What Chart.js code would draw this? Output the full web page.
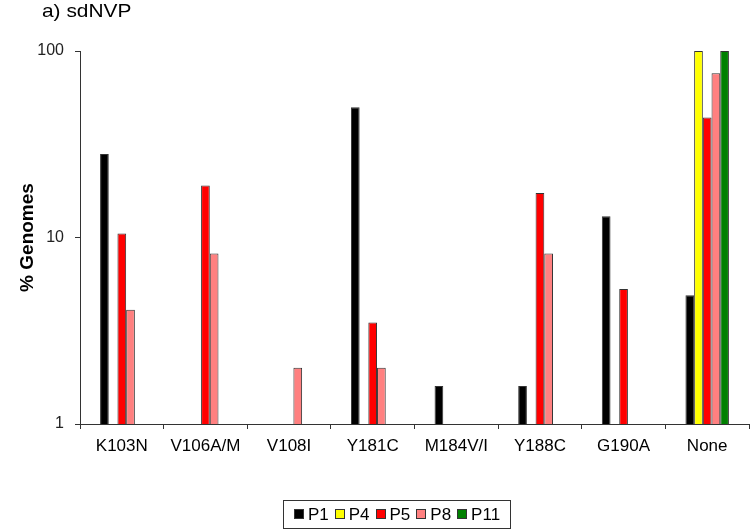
<!DOCTYPE html>
<html>
<head>
<meta charset="utf-8">
<script src="https://cdn.jsdelivr.net/npm/chart.js@4.4.0/dist/chart.umd.min.js"></script>
<style>
  body { margin: 0; background: #fff; }
  #wrap { position: relative; width: 750px; height: 530px; }
  #title { position: absolute; left: 42px; top: 0px; font: 19px "Liberation Sans", Arial, sans-serif; color: #000;
    transform: scaleX(1.1); transform-origin: left top; }
  #legend { position: absolute; left: 283px; top: 500px; width: 226px; height: 27px; border: 1px solid #333;
    display: flex; align-items: center; justify-content: center; gap: 6px;
    font: 17px "Liberation Sans", Arial, sans-serif; color: #000; }
  #legend span.box { display: inline-block; width: 8px; height: 8px; border: 1px solid #333; margin-right: 4px; vertical-align: middle; position: relative; top: -1px; }
</style>
</head>
<body>
<div id="wrap">
  <canvas id="chart" width="750" height="530"></canvas>
  <div id="title">a) sdNVP</div>
  <div id="legend"></div>
</div>
<script>
const categories = ['K103N', 'V106A/M', 'V108I', 'Y181C', 'M184V/I', 'Y188C', 'G190A', 'None'];
const seriesNames = ['P1', 'P4', 'P5', 'P8', 'P11'];
const seriesColors = ['#000000', '#ffff00', '#ff0000', '#ff8080', '#008000'];

// % genomes per patient, null = not detected
const p1 = [28, null, null, 50, 1.6, 1.6, 13, 4.9];
const p4 = [null, null, null, null, null, null, null, 100];
const p5 = [10.5, 19, null, 3.5, null, 17.3, 5.3, 44];
const p8 = [4.1, 8.2, 2, 2, null, 8.2, null, 76];
const p11 = [null, null, null, null, null, null, null, 100];
const seriesValues = [p1, p4, p5, p8, p11];

const yTicks = [1, 10, 100];

const datasets = seriesNames.map((name, i) => ({
    label: name,
    data: seriesValues[i],
    backgroundColor: seriesColors[i],
    borderColor: '#333333',
    borderWidth: 1,
    borderSkipped: 'bottom',
    categoryPercentage: 0.52,
    barPercentage: 1.0
}));

// legend box below the chart
const legendEl = document.getElementById('legend');
seriesNames.forEach((name, i) => {
    const item = document.createElement('div');
    item.innerHTML = '<span class="box" style="background:' + seriesColors[i] + '"></span>' + name;
    legendEl.appendChild(item);
});

const ctx = document.getElementById('chart').getContext('2d');
const chart = new Chart(ctx, {
    type: 'bar',
    data: { labels: categories, datasets: datasets },
    options: {
        responsive: false,
        animation: false,
        layout: { padding: { top: 51, right: 1, bottom: 66, left: 0 } },
        plugins: {
            legend: { display: false },
            tooltip: { enabled: false }
        },
        scales: {
            x: {
                grid: { display: true, drawOnChartArea: false, tickLength: 5, color: '#333' },
                border: { color: '#333', width: 1 },
                ticks: {
                    color: '#000',
                    padding: 7,
                    maxRotation: 0,
                    font: { family: 'Liberation Sans', size: 17 }
                },
                afterFit: (scale) => { scale.height = 40; }
            },
            y: {
                type: 'logarithmic',
                min: 1,
                max: 100,
                afterBuildTicks: (scale) => { scale.ticks = yTicks.map(v => ({ value: v })); },
                grid: { display: true, drawOnChartArea: false, tickLength: 5, color: '#333' },
                border: { color: '#333', width: 1 },
                ticks: {
                    color: '#222',
                    padding: 11,
                    font: { family: 'Liberation Sans', size: 16 },
                    callback: (v) => String(v)
                },
                title: {
                    display: true,
                    text: '% Genomes',
                    color: '#000',
                    font: { family: 'Liberation Sans', size: 19, weight: 'bold' },
                    padding: { top: 16, bottom: 0 }
                },
                afterFit: (scale) => { scale.width = 80; }
            }
        }
    }
});
</script>
</body>
</html>
